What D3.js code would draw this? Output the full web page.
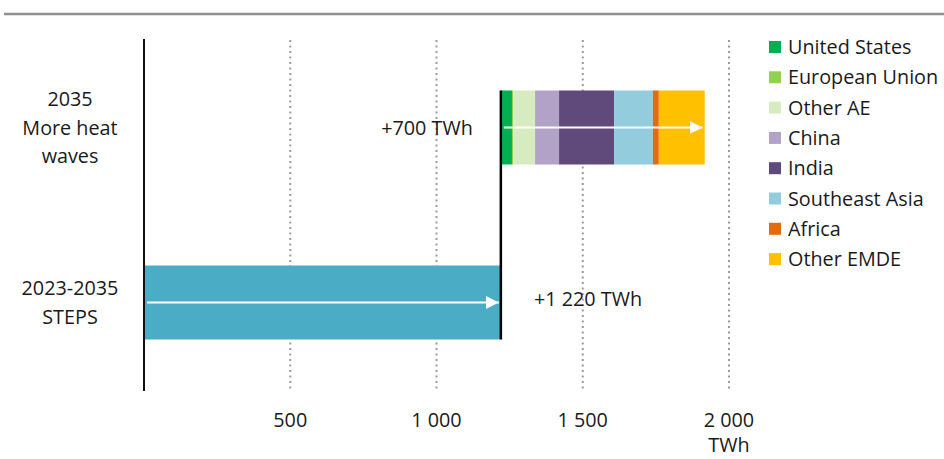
<!DOCTYPE html>
<html>
<head>
<meta charset="utf-8">
<script src="https://cdn.jsdelivr.net/npm/d3@7"></script>
<style>
  body { margin: 0; background: #fff; }
  text { font-family: "Open Sans", "Noto Sans", sans-serif; fill: #1a1a1a; }
</style>
</head>
<body>
<div id="chart"></div>
<script>
// data
var categories = ["2035 More heat waves", "2023-2035 STEPS"];
var categoryLines = [["2035", "More heat", "waves"], ["2023-2035", "STEPS"]];
var stepsValue = 1220;
var regions = ["United States", "European Union", "Other AE", "China", "India", "Southeast Asia", "Africa", "Other EMDE"];
var regionValues = [38, 4, 75, 82, 188, 133, 20, 157];
var regionColors = ["#00b050", "#92d050", "#d7ebc1", "#b3a2c8", "#604a7b", "#93cddd", "#e36c0a", "#ffc000"];
var xTicks = [500, 1000, 1500, 2000];
var barLabels = ["+700 TWh", "+1 220 TWh"];

var width = 944, height = 459;
var fs = "19.8px";
var svg = d3.select("#chart").append("svg")
  .attr("width", width)
  .attr("height", height);

var x = d3.scaleLinear().domain([0, 2000]).range([144, 729]);
var y = d3.scalePoint().domain(categories).range([40, 390]).padding(0.5);
var barH = 74;

// top rule
svg.append("line")
  .attr("x1", 4).attr("x2", width)
  .attr("y1", 14).attr("y2", 14)
  .attr("stroke", "#8f8f8f").attr("stroke-width", 2.5);

// dotted grid
svg.selectAll(".grid")
  .data(xTicks).enter().append("line")
  .attr("class", "grid")
  .attr("x1", d => x(d)).attr("x2", d => x(d))
  .attr("y1", 40).attr("y2", 391)
  .attr("stroke", "#9a9a9a")
  .attr("stroke-width", 2)
  .attr("stroke-dasharray", "2,3.5");

// tick labels
svg.selectAll(".tick")
  .data(xTicks).enter().append("text")
  .attr("x", d => x(d))
  .attr("y", 427)
  .attr("text-anchor", "middle")
  .style("font-size", fs)
  .text(d => d3.format(",")(d).replace(",", " "));

svg.append("text")
  .attr("x", x(2000)).attr("y", 452)
  .attr("text-anchor", "middle")
  .style("font-size", fs)
  .text("TWh");

// STEPS bar
svg.append("rect")
  .attr("x", x(0))
  .attr("y", y(categories[1]) - barH / 2)
  .attr("width", x(stepsValue) - x(0))
  .attr("height", barH)
  .attr("fill", "#4bacc6");

// stacked heat wave bar
var row = {};
regions.forEach((r, i) => row[r] = regionValues[i]);
var stacked = d3.stack().keys(regions)([row]);

svg.selectAll(".seg")
  .data(stacked).enter().append("rect")
  .attr("class", "seg")
  .attr("x", d => x(stepsValue + d[0][0]))
  .attr("y", y(categories[0]) - barH / 2)
  .attr("width", d => x(stepsValue + d[0][1]) - x(stepsValue + d[0][0]))
  .attr("height", barH)
  .attr("fill", (d, i) => regionColors[i]);

// axis line at zero
svg.append("line")
  .attr("x1", x(0)).attr("x2", x(0))
  .attr("y1", 39).attr("y2", 391)
  .attr("stroke", "#111").attr("stroke-width", 2);

// connector at the end of STEPS
svg.append("line")
  .attr("x1", x(stepsValue)).attr("x2", x(stepsValue))
  .attr("y1", y(categories[0]) - barH / 2)
  .attr("y2", y(categories[1]) + barH / 2)
  .attr("stroke", "#000").attr("stroke-width", 2.5);

// arrows
var defs = svg.append("defs");
defs.append("marker")
  .attr("id", "head")
  .attr("viewBox", "0 0 10 10")
  .attr("refX", 10).attr("refY", 5)
  .attr("markerWidth", 13).attr("markerHeight", 13)
  .attr("markerUnits", "userSpaceOnUse")
  .attr("orient", "auto")
  .append("path").attr("d", "M0,0 L10,5 L0,10 Z").attr("fill", "#fff");

var arrows = [
  { cat: categories[1], from: 0, to: stepsValue },
  { cat: categories[0], from: stepsValue, to: stepsValue + d3.sum(regionValues) }
];
svg.selectAll(".arrow")
  .data(arrows).enter().append("line")
  .attr("x1", d => x(d.from) + 3)
  .attr("x2", d => x(d.to) - 2)
  .attr("y1", d => y(d.cat)).attr("y2", d => y(d.cat))
  .attr("stroke", "#fff").attr("stroke-width", 2)
  .attr("marker-end", "url(#head)");

// value labels
svg.append("text")
  .attr("x", 427).attr("y", y(categories[0]) + 7)
  .attr("text-anchor", "middle")
  .style("font-size", fs)
  .text(barLabels[0]);
svg.append("text")
  .attr("x", 588).attr("y", y(categories[1]) + 3)
  .attr("text-anchor", "middle")
  .style("font-size", fs)
  .text(barLabels[1]);

// category labels
categories.forEach((c, i) => {
  var lines = categoryLines[i];
  var t = svg.append("text")
    .attr("text-anchor", "middle")
    .style("font-size", fs);
  lines.forEach((l, j) => {
    t.append("tspan")
      .attr("x", 70)
      .attr("y", y(c) + 7 + (j - (lines.length - 1) / 2) * 28.5)
      .text(l);
  });
});

// legend
var legend = svg.selectAll(".legend")
  .data(regions).enter().append("g")
  .attr("transform", (d, i) => "translate(769," + (47 + i * 30.3) + ")");
legend.append("rect")
  .attr("x", 0).attr("y", -6)
  .attr("width", 12).attr("height", 12)
  .attr("fill", (d, i) => regionColors[i]);
legend.append("text")
  .attr("x", 19).attr("y", 7)
  .style("font-size", fs)
  .text(d => d);
</script>
</body>
</html>
